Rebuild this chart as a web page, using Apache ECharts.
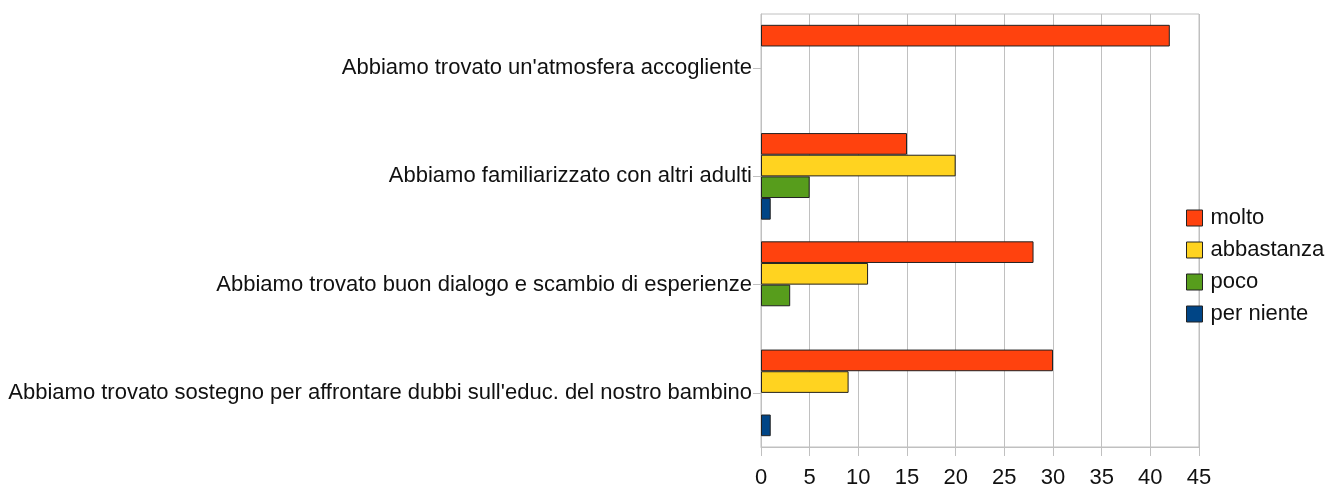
<!DOCTYPE html>
<html>
<head>
<meta charset="utf-8">
<script src="https://cdn.jsdelivr.net/npm/echarts@6/dist/echarts.min.js"></script>
<style>
  html, body { margin: 0; padding: 0; background: #fff; }
  #main { width: 1331px; height: 489px; }
</style>
</head>
<body>
<div id="main"></div>
<script>
var categories = [
    "Abbiamo trovato un'atmosfera accogliente",
    "Abbiamo familiarizzato con altri adulti",
    "Abbiamo trovato buon dialogo e scambio di esperienze",
    "Abbiamo trovato sostegno per affrontare dubbi sull'educ. del nostro bambino"
];
var seriesNames = ['molto', 'abbastanza', 'poco', 'per niente'];
var molto = [42, 15, 28, 30];
var abbastanza = [0, 20, 11, 9];
var poco = [0, 5, 3, 0];
var perNiente = [0, 1, 0, 1];
var xTicks = [0, 5, 10, 15, 20, 25, 30, 35, 40, 45];

var colors = ['#ff420e', '#ffd320', '#579d1c', '#004586'];
var font = '"Liberation Sans", Arial, sans-serif';

var initChart = function () {
    var myChart = echarts.init(document.getElementById('main'));
    var values = [molto, abbastanza, poco, perNiente];
    var series = [];
    for (var i = 0; i < seriesNames.length; i++) {
        series.push({
            name: seriesNames[i],
            type: 'bar',
            // empty cells are not drawn in the original
            data: values[i].map(function (v) { return v === 0 ? '-' : v; }),
            barGap: '0%',
            barCategoryGap: '20%',
            itemStyle: {
                color: colors[i],
                borderColor: '#222',
                borderWidth: 1
            }
        });
    }
    var option = {
        animation: false,
        textStyle: { fontFamily: font },
        color: colors,
        grid: {
            left: 761,
            right: 132,
            top: 14,
            bottom: 42,
            show: true,
            borderColor: '#c0c0c0',
            borderWidth: 1
        },
        legend: {
            orient: 'vertical',
            left: 1186,
            top: 207,
            padding: 0,
            itemWidth: 16,
            itemHeight: 16,
            itemGap: 10,
            icon: 'rect',
            data: seriesNames,
            textStyle: { fontSize: 22, color: '#111', fontFamily: font, padding: [0, 0, 0, 3] },
            itemStyle: { borderColor: '#222', borderWidth: 1 }
        },
        xAxis: {
            type: 'value',
            min: xTicks[0],
            max: xTicks[xTicks.length - 1],
            interval: 5,
            axisLine: { show: true, lineStyle: { color: '#c0c0c0' } },
            axisTick: { show: true, length: 9, lineStyle: { color: '#c0c0c0' } },
            axisLabel: { fontSize: 22, color: '#111', margin: 20, fontFamily: font },
            splitLine: { show: true, lineStyle: { color: '#c0c0c0' } }
        },
        yAxis: {
            type: 'category',
            inverse: true,
            data: categories,
            axisLine: { show: true, lineStyle: { color: '#c0c0c0' } },
            axisTick: { show: true, alignWithLabel: true, length: 8, lineStyle: { color: '#c0c0c0' } },
            axisLabel: { fontSize: 22, color: '#111', margin: 9, fontFamily: font },
            splitLine: { show: false }
        },
        series: series
    };
    myChart.setOption(option);
};
initChart();
</script>
</body>
</html>
